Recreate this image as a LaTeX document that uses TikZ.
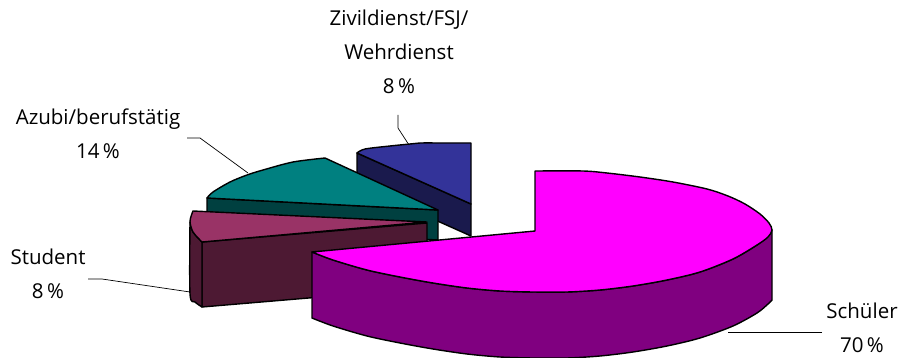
\documentclass[tikz,border=0pt]{standalone}
\usepackage{fontspec}
\setmainfont{Open Sans}
\definecolor{schtop}{HTML}{FF00FF}
\definecolor{schside}{HTML}{800080}
\definecolor{stutop}{HTML}{993366}
\definecolor{stuside}{HTML}{4D1933}
\definecolor{azutop}{HTML}{008080}
\definecolor{azuside}{HTML}{004040}
\definecolor{zivtop}{HTML}{333399}
\definecolor{zivside}{HTML}{1A1A4D}
\tikzset{
  face/.style={draw=black, line width=1.4pt, line join=round},
  leader/.style={draw=black, line width=0.7pt},
  lbl/.style={font=\fontsize{20.5}{34}\selectfont, align=center, anchor=base, inner sep=0pt}
}
\begin{document}
\begin{tikzpicture}[x=1pt,y=-1pt]
\useasboundingbox (0,0) rectangle (902,358);
% Zivildienst (blue)
\path[face, fill=zivside] (357,153) -- (471,204) -- (471,236) -- (357,185) -- cycle;
\path[face, fill=zivtop] (471,204) -- (357,153) -- plot[smooth] coordinates {(357,153) (365,149) (390,146) (410,144) (420,143) (445,143) (471,143)} -- cycle;
% Azubi (teal)
\path[face, fill=azuside] (207,198) -- (438,210) -- (438,240) -- (207,228) -- cycle;
\path[face, fill=azutop] (438,210) -- (325,158) -- plot[smooth] coordinates {(325,158) (293,162) (263,170) (247,175) (230,182) (213,192) (207,198)} -- cycle;
% Student (maroon)
\path[face, fill=stuside] (202,242) -- (427,223) -- (427,288) -- (202,307) -- cycle;
\path[face, fill=stuside] (202,242) -- (202,307) -- plot[smooth] coordinates {(202,307) (195,302) (190,294) (190,222)} -- plot[smooth] coordinates {(190,222) (193,232) (202,242)} -- cycle;
\path[face, fill=stutop] (427,222) -- (193,211) -- plot[smooth] coordinates {(193,211) (190,221) (193,232) (202,242)} -- cycle;
% Schueler (magenta)
\path[face, fill=schside] (312,252) -- plot[smooth] coordinates {(312,252) (333,260) (367,270) (400,277) (433,283) (467,288) (500,291) (533,292) (567,292) (600,290) (633,286) (667,280) (700,272) (733,259) (757,245) (768,236) (772,230)}
  -- (772,300) -- plot[smooth] coordinates {(772,300) (768,304) (757,313) (733,326) (700,338) (667,346) (633,352) (600,356) (567,358) (533,358) (500,357) (467,354) (433,349) (400,343) (367,336) (333,326) (312,318)} -- cycle;
\path[face, fill=schtop] (535,231) -- (535,171) -- plot[smooth] coordinates {(535,171) (583,171) (607,173) (640,177) (673,182) (707,189) (728,196) (745,204) (760,214) (769,223) (772,230) (768,237) (757,245) (733,259) (700,272) (667,280) (633,286) (600,290) (567,292) (533,292) (500,291) (467,288) (433,283) (400,277) (367,270) (333,260) (312,252)} -- cycle;
% labels (anchor = baseline of last line)
\node[lbl] (ziv) at (399,94) {Zivildienst/FSJ/\\Wehrdienst\\8\,\%};
\node[lbl] (azu) at (98,159) {Azubi/berufstätig\\14\,\%};
\node[lbl] (stu) at (48,298) {Student\\8\,\%};
\node[lbl] (sch) at (862,352) {Schüler\\70\,\%};
% leader lines
\coordinate (zivA) at (398,115);
\coordinate (zivB) at (398,128);
\coordinate (zivC) at (409,145);
\coordinate (azuA) at (187,138);
\coordinate (azuB) at (200,138);
\coordinate (azuC) at (248,173);
\coordinate (stuA) at (88,279);
\coordinate (stuB) at (102,279);
\coordinate (stuC) at (190,292);
\coordinate (schA) at (822,332);
\coordinate (schB) at (728,332);
\path[leader] (zivA) -- (zivB) -- (zivC);
\path[leader] (azuA) -- (azuB) -- (azuC);
\path[leader] (stuA) -- (stuB) -- (stuC);
\path[leader] (schA) -- (schB);
\end{tikzpicture}
\end{document}
